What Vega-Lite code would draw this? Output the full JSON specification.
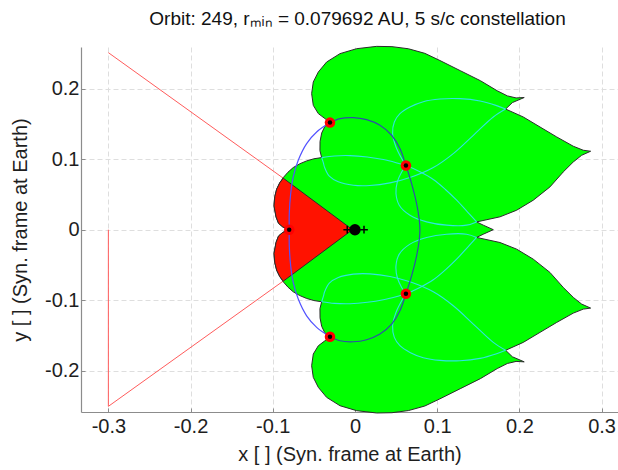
{
  "$schema": "https://vega.github.io/schema/vega-lite/v6.json",
  "autosize": {"type": "none"},
  "padding": {"left": 81, "top": 47, "right": 0, "bottom": 58},
  "width": 537,
  "height": 365,
  "background": "white",
  "config": {
    "font": "Liberation Sans",
    "view": {"stroke": null},
    "axis": {
      "grid": true,
      "gridColor": "#dedede",
      "gridDash": [5, 3],
      "gridWidth": 1,
      "domainColor": "#8c8c8c",
      "domainWidth": 1.2,
      "tickColor": "#8c8c8c",
      "tickSize": -4,
      "labelFontSize": 20,
      "labelColor": "#1e1e1e",
      "titleFontSize": 20,
      "titleFontWeight": "normal",
      "titleColor": "#1e1e1e"
    }
  },
  "title": {
    "text": "Orbit: 249, rₘᵢₙ = 0.079692 AU, 5 s/c constellation",
    "fontSize": 19,
    "fontWeight": "normal",
    "color": "#111111",
    "frame": "group",
    "anchor": "middle",
    "baseline": "alphabetic",
    "offset": 2,
    "dx": 8
  },
  "datasets": {
    "redlines": [
      {"x": -0.3, "y": 0.251}, {"x": 0.0, "y": 0.0}, {"x": -0.3, "y": -0.2505}, {"x": -0.3, "y": 0.0}
    ],
    "green": [
      {"x": -0.0805, "y": 0.0}, {"x": -0.0880, "y": 0.0040}, {"x": -0.0930, "y": 0.0090}, {"x": -0.0960, "y": 0.0180},
      {"x": -0.0985, "y": 0.0337}, {"x": -0.0975, "y": 0.0470}, {"x": -0.0953, "y": 0.0574}, {"x": -0.0915, "y": 0.0665},
      {"x": -0.0872, "y": 0.0739}, {"x": -0.0815, "y": 0.0815}, {"x": -0.0751, "y": 0.0881}, {"x": -0.0670, "y": 0.0935},
      {"x": -0.0588, "y": 0.0975}, {"x": -0.0500, "y": 0.1005}, {"x": -0.0405, "y": 0.1022}, {"x": -0.0426, "y": 0.1120},
      {"x": -0.0425, "y": 0.1250}, {"x": -0.0405, "y": 0.1370}, {"x": -0.0370, "y": 0.1455}, {"x": -0.0335, "y": 0.1500},
      {"x": -0.0304, "y": 0.1518}, {"x": -0.0365, "y": 0.1575}, {"x": -0.0446, "y": 0.1646}, {"x": -0.0507, "y": 0.1763},
      {"x": -0.0527, "y": 0.1929}, {"x": -0.0507, "y": 0.2094}, {"x": -0.0446, "y": 0.2235}, {"x": -0.0345, "y": 0.2377},
      {"x": -0.0182, "y": 0.2496}, {"x": 0.0020, "y": 0.2566}, {"x": 0.0264, "y": 0.2599}, {"x": 0.0450, "y": 0.2595},
      {"x": 0.0650, "y": 0.2565}, {"x": 0.0850, "y": 0.2500}, {"x": 0.1034, "y": 0.2398}, {"x": 0.1280, "y": 0.2255},
      {"x": 0.1526, "y": 0.2112}, {"x": 0.1731, "y": 0.1969}, {"x": 0.1854, "y": 0.1897}, {"x": 0.1960, "y": 0.1868},
      {"x": 0.2059, "y": 0.1874}, {"x": 0.1915, "y": 0.1802}, {"x": 0.1833, "y": 0.1710}, {"x": 0.2047, "y": 0.1598},
      {"x": 0.2251, "y": 0.1456}, {"x": 0.2454, "y": 0.1315}, {"x": 0.2656, "y": 0.1183}, {"x": 0.2778, "y": 0.1126},
      {"x": 0.2867, "y": 0.1112}, {"x": 0.2758, "y": 0.1055}, {"x": 0.2656, "y": 0.0960}, {"x": 0.2534, "y": 0.0819},
      {"x": 0.2372, "y": 0.0606}, {"x": 0.2169, "y": 0.0418}, {"x": 0.1967, "y": 0.0276}, {"x": 0.1764, "y": 0.0182},
      {"x": 0.1480, "y": 0.0110}, {"x": 0.1561, "y": 0.0064}, {"x": 0.1683, "y": 0.0},
      {"x": 0.1561, "y": -0.0064}, {"x": 0.1480, "y": -0.0110}, {"x": 0.1764, "y": -0.0182}, {"x": 0.1967, "y": -0.0276},
      {"x": 0.2169, "y": -0.0418}, {"x": 0.2372, "y": -0.0606}, {"x": 0.2534, "y": -0.0819}, {"x": 0.2656, "y": -0.0960},
      {"x": 0.2758, "y": -0.1055}, {"x": 0.2867, "y": -0.1112}, {"x": 0.2778, "y": -0.1126}, {"x": 0.2656, "y": -0.1183},
      {"x": 0.2454, "y": -0.1315}, {"x": 0.2251, "y": -0.1456}, {"x": 0.2047, "y": -0.1598}, {"x": 0.1833, "y": -0.1710},
      {"x": 0.1915, "y": -0.1802}, {"x": 0.2059, "y": -0.1874}, {"x": 0.1960, "y": -0.1868}, {"x": 0.1854, "y": -0.1897},
      {"x": 0.1731, "y": -0.1969}, {"x": 0.1526, "y": -0.2112}, {"x": 0.1280, "y": -0.2255}, {"x": 0.1034, "y": -0.2398},
      {"x": 0.0850, "y": -0.2500}, {"x": 0.0650, "y": -0.2565}, {"x": 0.0450, "y": -0.2595}, {"x": 0.0264, "y": -0.2599},
      {"x": 0.0020, "y": -0.2566}, {"x": -0.0182, "y": -0.2496}, {"x": -0.0345, "y": -0.2377}, {"x": -0.0446, "y": -0.2235},
      {"x": -0.0507, "y": -0.2094}, {"x": -0.0527, "y": -0.1929}, {"x": -0.0507, "y": -0.1763}, {"x": -0.0446, "y": -0.1646},
      {"x": -0.0365, "y": -0.1575}, {"x": -0.0304, "y": -0.1518}, {"x": -0.0335, "y": -0.1500}, {"x": -0.0370, "y": -0.1455},
      {"x": -0.0405, "y": -0.1370}, {"x": -0.0425, "y": -0.1250}, {"x": -0.0426, "y": -0.1120}, {"x": -0.0405, "y": -0.1022},
      {"x": -0.0500, "y": -0.1005}, {"x": -0.0588, "y": -0.0975}, {"x": -0.0670, "y": -0.0935}, {"x": -0.0751, "y": -0.0881},
      {"x": -0.0815, "y": -0.0815}, {"x": -0.0872, "y": -0.0739}, {"x": -0.0915, "y": -0.0665}, {"x": -0.0953, "y": -0.0574},
      {"x": -0.0975, "y": -0.0470}, {"x": -0.0985, "y": -0.0337}, {"x": -0.0960, "y": -0.0180}, {"x": -0.0930, "y": -0.0090},
      {"x": -0.0880, "y": -0.0040}, {"x": -0.0805, "y": 0.0}
    ],
    "redpoly": [
      {"x": -0.003, "y": 0.0}, {"x": -0.0872, "y": 0.0730}, {"x": -0.0915, "y": 0.0665}, {"x": -0.0953, "y": 0.0574},
      {"x": -0.0975, "y": 0.0470}, {"x": -0.0985, "y": 0.0337}, {"x": -0.0960, "y": 0.0180}, {"x": -0.0930, "y": 0.0090},
      {"x": -0.0880, "y": 0.0040}, {"x": -0.0805, "y": 0.0}, {"x": -0.0880, "y": -0.0040}, {"x": -0.0930, "y": -0.0090},
      {"x": -0.0960, "y": -0.0180}, {"x": -0.0985, "y": -0.0337}, {"x": -0.0975, "y": -0.0470}, {"x": -0.0953, "y": -0.0574},
      {"x": -0.0915, "y": -0.0665}, {"x": -0.0872, "y": -0.0730}, {"x": -0.003, "y": 0.0}
    ],
    "cyan": [
      {"s": "c1u", "x": -0.0405, "y": 0.1022}, {"s": "c1u", "x": -0.0250, "y": 0.1045}, {"s": "c1u", "x": -0.0061, "y": 0.1050},
      {"s": "c1u", "x": 0.0150, "y": 0.1030}, {"s": "c1u", "x": 0.0345, "y": 0.0994}, {"s": "c1u", "x": 0.0500, "y": 0.0950},
      {"s": "c1u", "x": 0.0620, "y": 0.0909}, {"s": "c1u", "x": 0.0790, "y": 0.0820}, {"s": "c1u", "x": 0.0953, "y": 0.0711},
      {"s": "c1u", "x": 0.1100, "y": 0.0570}, {"s": "c1u", "x": 0.1237, "y": 0.0418}, {"s": "c1u", "x": 0.1370, "y": 0.0250},
      {"s": "c1u", "x": 0.1480, "y": 0.0110},
      {"s": "c2u", "x": -0.0405, "y": 0.1022}, {"s": "c2u", "x": -0.0385, "y": 0.0950}, {"s": "c2u", "x": -0.0369, "y": 0.0881},
      {"s": "c2u", "x": -0.0312, "y": 0.0758}, {"s": "c2u", "x": -0.0203, "y": 0.0678}, {"s": "c2u", "x": -0.0020, "y": 0.0630},
      {"s": "c2u", "x": 0.0182, "y": 0.0626}, {"s": "c2u", "x": 0.0426, "y": 0.0663}, {"s": "c2u", "x": 0.0669, "y": 0.0739},
      {"s": "c2u", "x": 0.0953, "y": 0.0881}, {"s": "c2u", "x": 0.1196, "y": 0.1079}, {"s": "c2u", "x": 0.1440, "y": 0.1338},
      {"s": "c2u", "x": 0.1683, "y": 0.1598}, {"s": "c2u", "x": 0.1833, "y": 0.1710},
      {"s": "c3u", "x": 0.0620, "y": 0.0909}, {"s": "c3u", "x": 0.0568, "y": 0.1008}, {"s": "c3u", "x": 0.0499, "y": 0.1173},
      {"s": "c3u", "x": 0.0458, "y": 0.1362}, {"s": "c3u", "x": 0.0479, "y": 0.1527}, {"s": "c3u", "x": 0.0547, "y": 0.1645},
      {"s": "c3u", "x": 0.0669, "y": 0.1740}, {"s": "c3u", "x": 0.0831, "y": 0.1815}, {"s": "c3u", "x": 0.1034, "y": 0.1853},
      {"s": "c3u", "x": 0.1277, "y": 0.1858}, {"s": "c3u", "x": 0.1521, "y": 0.1825}, {"s": "c3u", "x": 0.1723, "y": 0.1759},
      {"s": "c3u", "x": 0.1833, "y": 0.1710},
      {"s": "c4u", "x": 0.0620, "y": 0.0909}, {"s": "c4u", "x": 0.0568, "y": 0.0819}, {"s": "c4u", "x": 0.0515, "y": 0.0678},
      {"s": "c4u", "x": 0.0499, "y": 0.0512}, {"s": "c4u", "x": 0.0539, "y": 0.0347}, {"s": "c4u", "x": 0.0669, "y": 0.0205},
      {"s": "c4u", "x": 0.0872, "y": 0.0111}, {"s": "c4u", "x": 0.1115, "y": 0.0064}, {"s": "c4u", "x": 0.1358, "y": 0.0064},
      {"s": "c4u", "x": 0.1480, "y": 0.0110},
      {"s": "c1l", "x": -0.0405, "y": -0.1022}, {"s": "c1l", "x": -0.0250, "y": -0.1045}, {"s": "c1l", "x": -0.0061, "y": -0.1050},
      {"s": "c1l", "x": 0.0150, "y": -0.1030}, {"s": "c1l", "x": 0.0345, "y": -0.0994}, {"s": "c1l", "x": 0.0500, "y": -0.0950},
      {"s": "c1l", "x": 0.0620, "y": -0.0909}, {"s": "c1l", "x": 0.0790, "y": -0.0820}, {"s": "c1l", "x": 0.0953, "y": -0.0711},
      {"s": "c1l", "x": 0.1100, "y": -0.0570}, {"s": "c1l", "x": 0.1237, "y": -0.0418}, {"s": "c1l", "x": 0.1370, "y": -0.0250},
      {"s": "c1l", "x": 0.1480, "y": -0.0110},
      {"s": "c2l", "x": -0.0405, "y": -0.1022}, {"s": "c2l", "x": -0.0385, "y": -0.0950}, {"s": "c2l", "x": -0.0369, "y": -0.0881},
      {"s": "c2l", "x": -0.0312, "y": -0.0758}, {"s": "c2l", "x": -0.0203, "y": -0.0678}, {"s": "c2l", "x": -0.0020, "y": -0.0630},
      {"s": "c2l", "x": 0.0182, "y": -0.0626}, {"s": "c2l", "x": 0.0426, "y": -0.0663}, {"s": "c2l", "x": 0.0669, "y": -0.0739},
      {"s": "c2l", "x": 0.0953, "y": -0.0881}, {"s": "c2l", "x": 0.1196, "y": -0.1079}, {"s": "c2l", "x": 0.1440, "y": -0.1338},
      {"s": "c2l", "x": 0.1683, "y": -0.1598}, {"s": "c2l", "x": 0.1833, "y": -0.1710},
      {"s": "c3l", "x": 0.0620, "y": -0.0909}, {"s": "c3l", "x": 0.0568, "y": -0.1008}, {"s": "c3l", "x": 0.0499, "y": -0.1173},
      {"s": "c3l", "x": 0.0458, "y": -0.1362}, {"s": "c3l", "x": 0.0479, "y": -0.1527}, {"s": "c3l", "x": 0.0547, "y": -0.1645},
      {"s": "c3l", "x": 0.0669, "y": -0.1740}, {"s": "c3l", "x": 0.0831, "y": -0.1815}, {"s": "c3l", "x": 0.1034, "y": -0.1853},
      {"s": "c3l", "x": 0.1277, "y": -0.1858}, {"s": "c3l", "x": 0.1521, "y": -0.1825}, {"s": "c3l", "x": 0.1723, "y": -0.1759},
      {"s": "c3l", "x": 0.1833, "y": -0.1710},
      {"s": "c4l", "x": 0.0620, "y": -0.0909}, {"s": "c4l", "x": 0.0568, "y": -0.0819}, {"s": "c4l", "x": 0.0515, "y": -0.0678},
      {"s": "c4l", "x": 0.0499, "y": -0.0512}, {"s": "c4l", "x": 0.0539, "y": -0.0347}, {"s": "c4l", "x": 0.0669, "y": -0.0205},
      {"s": "c4l", "x": 0.0872, "y": -0.0111}, {"s": "c4l", "x": 0.1115, "y": -0.0064}, {"s": "c4l", "x": 0.1358, "y": -0.0064},
      {"s": "c4l", "x": 0.1480, "y": -0.0110}
    ],
    "blue": [
      {"arc": "left", "x": -0.0304, "y": 0.1518}, {"arc": "left", "x": -0.0466, "y": 0.1385}, {"arc": "left", "x": -0.0588, "y": 0.1221},
      {"arc": "left", "x": -0.0690, "y": 0.0984}, {"arc": "left", "x": -0.0751, "y": 0.0748}, {"arc": "left", "x": -0.0782, "y": 0.0513},
      {"arc": "left", "x": -0.0799, "y": 0.0229}, {"arc": "left", "x": -0.0800, "y": 0.0}, {"arc": "left", "x": -0.0799, "y": -0.0229},
      {"arc": "left", "x": -0.0782, "y": -0.0513}, {"arc": "left", "x": -0.0751, "y": -0.0748}, {"arc": "left", "x": -0.0690, "y": -0.0984},
      {"arc": "left", "x": -0.0588, "y": -0.1221}, {"arc": "left", "x": -0.0466, "y": -0.1385}, {"arc": "left", "x": -0.0304, "y": -0.1518},
      {"arc": "right", "x": -0.0304, "y": 0.1518}, {"arc": "right", "x": -0.0182, "y": 0.1575}, {"arc": "right", "x": -0.0020, "y": 0.1589},
      {"arc": "right", "x": 0.0142, "y": 0.1560}, {"arc": "right", "x": 0.0304, "y": 0.1480}, {"arc": "right", "x": 0.0446, "y": 0.1339},
      {"arc": "right", "x": 0.0547, "y": 0.1150}, {"arc": "right", "x": 0.0620, "y": 0.0909}, {"arc": "right", "x": 0.0689, "y": 0.0654},
      {"arc": "right", "x": 0.0750, "y": 0.0371}, {"arc": "right", "x": 0.0783, "y": 0.0135}, {"arc": "right", "x": 0.0790, "y": 0.0},
      {"arc": "right", "x": 0.0783, "y": -0.0135}, {"arc": "right", "x": 0.0750, "y": -0.0371}, {"arc": "right", "x": 0.0689, "y": -0.0654},
      {"arc": "right", "x": 0.0620, "y": -0.0909}, {"arc": "right", "x": 0.0547, "y": -0.1150}, {"arc": "right", "x": 0.0446, "y": -0.1339},
      {"arc": "right", "x": 0.0304, "y": -0.1480}, {"arc": "right", "x": 0.0142, "y": -0.1560}, {"arc": "right", "x": -0.0020, "y": -0.1589},
      {"arc": "right", "x": -0.0182, "y": -0.1575}, {"arc": "right", "x": -0.0304, "y": -0.1518}
    ],
    "sc": [
      {"x": -0.0800, "y": 0.0}, {"x": -0.0304, "y": 0.1518}, {"x": 0.0620, "y": 0.0909},
      {"x": 0.0620, "y": -0.0909}, {"x": -0.0304, "y": -0.1518}
    ],
    "earth": [{"x": 0.0, "y": 0.0}],
    "plus": [{"x": -0.0094, "y": 0.0}, {"x": 0.0110, "y": 0.0}]
  },
  "encoding": {
    "x": {
      "field": "x", "type": "quantitative",
      "scale": {"domain": [-0.3333, 0.32], "nice": false, "zero": false},
      "axis": {
        "values": [-0.3, -0.2, -0.1, 0, 0.1, 0.2, 0.3],
        "labelExpr": "datum.value + ''",
        "title": "x [ ] (Syn. frame at Earth)",
        "labelPadding": 8,
        "titlePadding": 8
      }
    },
    "y": {
      "field": "y", "type": "quantitative",
      "scale": {"domain": [-0.2585, 0.259], "nice": false, "zero": false},
      "axis": {
        "values": [-0.2, -0.1, 0, 0.1, 0.2],
        "labelExpr": "datum.value + ''",
        "title": "y [ ] (Syn. frame at Earth)",
        "labelPadding": 6,
        "titlePadding": 14
      }
    }
  },
  "layer": [
    {
      "data": {"name": "redlines"},
      "mark": {"type": "line", "color": "#ff5c5c", "strokeWidth": 1},
      "encoding": {"order": {"value": null}}
    },
    {
      "data": {"name": "green"},
      "mark": {"type": "line", "fill": "#00ff00", "stroke": "#2b2b2b", "strokeWidth": 1, "strokeJoin": "round"},
      "encoding": {"order": {"value": null}}
    },
    {
      "data": {"name": "redpoly"},
      "mark": {"type": "line", "fill": "#ff1200", "stroke": "#2b2b2b", "strokeWidth": 1},
      "encoding": {"order": {"value": null}}
    },
    {
      "data": {"name": "cyan"},
      "mark": {"type": "line", "color": "#2ee6e0", "strokeWidth": 1.1, "interpolate": "catmull-rom"},
      "encoding": {"detail": {"field": "s"}, "order": {"value": null}}
    },
    {
      "data": {"name": "blue"},
      "mark": {"type": "line", "strokeWidth": 1.2, "interpolate": "catmull-rom"},
      "encoding": {
        "detail": {"field": "arc"},
        "order": {"value": null},
        "color": {"field": "arc", "type": "nominal", "scale": {"domain": ["left", "right"], "range": ["#5252ff", "#2e4fa8"]}, "legend": null}
      }
    },
    {
      "data": {"name": "sc"},
      "mark": {"type": "point", "shape": "circle", "filled": true, "color": "#ff0000", "size": 110, "opacity": 1}
    },
    {
      "data": {"name": "sc"},
      "mark": {"type": "point", "shape": "circle", "filled": true, "color": "#000000", "size": 20, "opacity": 1}
    },
    {
      "data": {"name": "plus"},
      "mark": {"type": "point", "shape": "M-1,0H1M0,-1V1", "filled": false, "color": "#000000", "strokeWidth": 1.5, "size": 60, "opacity": 1}
    },
    {
      "data": {"name": "earth"},
      "mark": {"type": "point", "shape": "circle", "filled": true, "color": "#000000", "size": 130, "opacity": 1}
    }
  ]
}
